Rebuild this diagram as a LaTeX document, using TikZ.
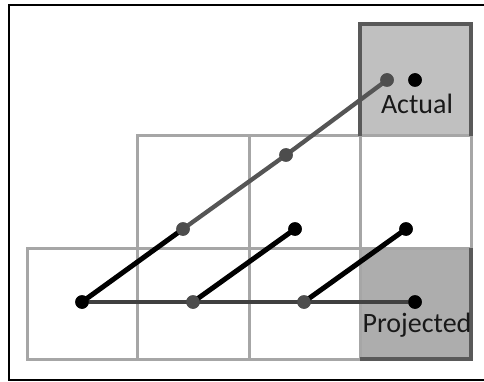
\documentclass[tikz,border=0pt]{standalone}
\usepackage{fontspec}
\setmainfont{Carlito}
\definecolor{gridgray}{HTML}{A6A6A6}
\definecolor{edgegray}{HTML}{595959}
\definecolor{actfill}{HTML}{C0C0C0}
\definecolor{projfill}{HTML}{ADADAD}
\definecolor{linegray}{HTML}{555555}
\definecolor{hgray}{HTML}{404040}
\definecolor{dotgray}{HTML}{4D4D4D}
\begin{document}
\begin{tikzpicture}[x=1pt,y=-1pt,
  gridline/.style={draw=gridgray,line width=3pt},
  edgeline/.style={draw=edgegray,line width=3.2pt},
  blackdot/.style={circle,fill=black,inner sep=0pt,minimum size=13.5pt},
  graydot/.style={circle,fill=dotgray,inner sep=0pt,minimum size=13.5pt},
  blackseg/.style={draw=black,line width=5pt},
  grayseg/.style={draw=linegray,line width=4.3pt},
  hseg/.style={draw=hgray,line width=4.3pt},
  lbl/.style={font=\fontsize{28}{31}\selectfont,text=black!90}]
\useasboundingbox (0,0) rectangle (484,382);
\fill[white] (0,0) rectangle (484,382);
% outer frame (right side cut off)
\draw[line width=2.5pt,line cap=rect] (486,5) -- (9,5) -- (9,380) -- (486,380);
% shaded cells
\fill[actfill] (360,24) rectangle (471,136);
\fill[projfill] (360,248) rectangle (471,359);
% grid
\draw[gridline] (137.5,136) rectangle (471,248);
\draw[gridline] (27,248) rectangle (471,359);
\draw[gridline] (249,136) -- (249,359);
\draw[gridline] (360,136) -- (360,359);
\draw[gridline] (137.5,248) -- (137.5,359);
% dark edges
\draw[edgeline] (360,136) -- (360,24) -- (471,24) -- (471,136);
\draw[edgeline] (471,248) -- (471,359) -- (360,359);
% points
\node[blackdot] (A) at (82,302) {};
\node[graydot]  (B) at (193,302) {};
\node[graydot]  (C) at (304,302) {};
\node[blackdot] (D) at (415,302) {};
\node[graydot]  (E) at (183,229) {};
\node[blackdot] (F) at (295,229) {};
\node[blackdot] (G) at (406,229) {};
\node[graydot]  (H) at (286,155) {};
\node[graydot]  (I) at (387,80) {};
\node[blackdot] (J) at (415,80) {};
% segments
\draw[hseg] (A.center) -- (D.center);
\draw[blackseg] (A.center) -- (E.center);
\draw[grayseg] (E.center) -- (H.center) -- (I.center);
\draw[blackseg] (B.center) -- (F.center);
\draw[blackseg] (C.center) -- (G.center);
% dots on top of segments
\foreach \n in {A,D,F,G,J} \fill[black] (\n.center) circle (6.75pt);
\foreach \n in {B,C,E,H,I} \fill[dotgray] (\n.center) circle (6.75pt);
% labels
\node[lbl] (actual) at (417,104) {Actual};
\node[lbl] (projected) at (417,325) {Projected};
\end{tikzpicture}
\end{document}
